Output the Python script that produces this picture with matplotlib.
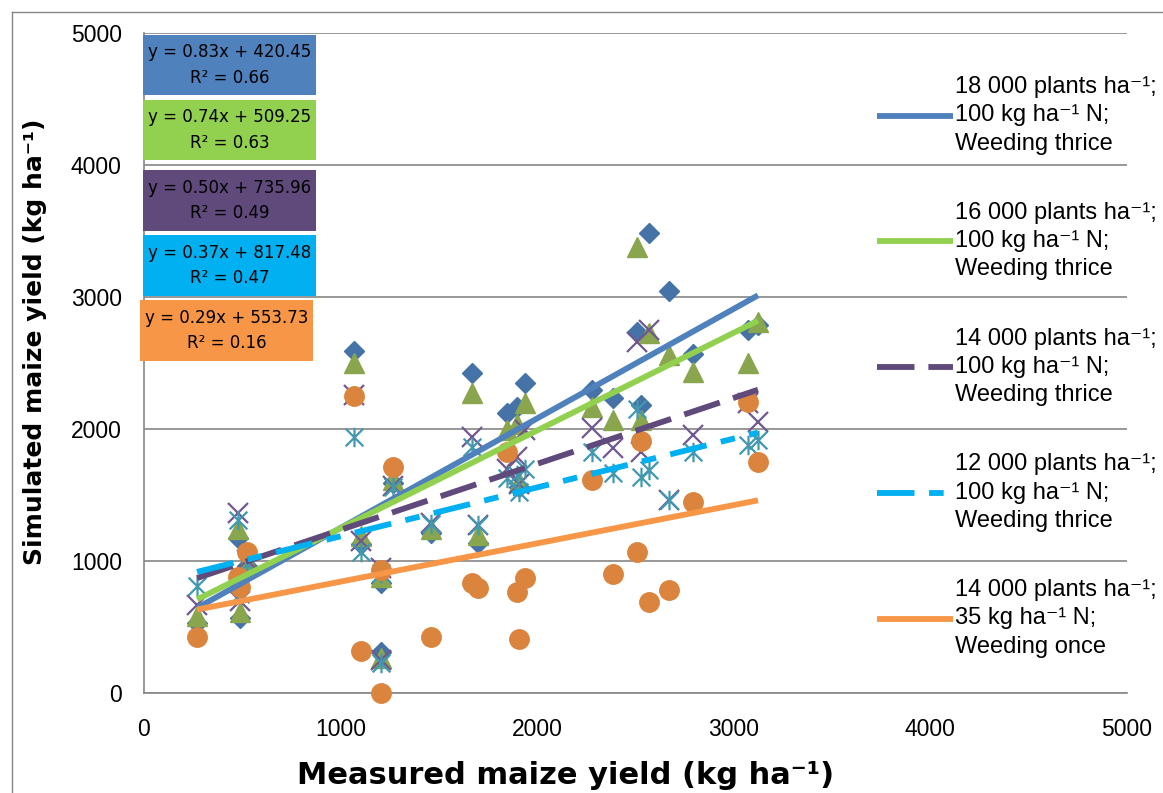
import matplotlib
matplotlib.use("Agg")
import matplotlib.pyplot as plt
from matplotlib.path import Path
from matplotlib.lines import Line2D
from matplotlib.patches import Rectangle

# ---------------- data ----------------
measured = [270, 478, 488, 524, 1068, 1105, 1205, 1205, 1267, 1460, 1668, 1699, 1846,
            1897, 1905, 1938, 2279, 2386, 2508, 2530, 2569, 2670, 2793, 3072, 3123]
sim_18000 = [530, 1175, 568, 960, 2590, 1130, 830, 310, 1590, 1215, 2424, 1136, 2121,
             2167, 1560, 2348, 2295, 2235, 2735, 2182, 3485, 3045, 2568, 2750, 2788]
sim_16000 = [585, 1240, 610, 990, 2500, 1190, 880, 265, 1610, 1240, 2272, 1197, 1990,
             2040, 1600, 2197, 2167, 2068, 3379, 2068, 2727, 2560, 2432, 2500, 2810]
sim_14000 = [670, 1360, 700, 1010, 2260, 1150, 950, 250, 1570, 1290, 1940, 1273, 1700,
             1790, 1580, 1990, 2008, 1856, 2660, 1826, 2750, 1462, 1955, 2200, 2053]
sim_12000 = [810, 1310, 750, 980, 1940, 1070, 910, 230, 1560, 1280, 1864, 1273, 1630,
             1650, 1520, 1700, 1826, 1667, 2150, 1636, 1689, 1462, 1826, 1879, 1917]
sim_14000_lowN = [424, 880, 800, 1068, 2250, 315, 930, 0, 1710, 424, 833, 795, 1826,
                  765, 409, 871, 1614, 900, 1068, 1909, 689, 780, 1447, 2205, 1750]

slopes = [0.83, 0.74, 0.50, 0.37, 0.29]
intercepts = [420.45, 509.25, 735.96, 817.48, 553.73]
r_squared = [0.66, 0.63, 0.49, 0.47, 0.16]

legend_labels = [
    "18 000 plants ha\u207b\u00b9;\n100 kg ha\u207b\u00b9 N;\nWeeding thrice",
    "16 000 plants ha\u207b\u00b9;\n100 kg ha\u207b\u00b9 N;\nWeeding thrice",
    "14 000 plants ha\u207b\u00b9;\n100 kg ha\u207b\u00b9 N;\nWeeding thrice",
    "12 000 plants ha\u207b\u00b9;\n100 kg ha\u207b\u00b9 N;\nWeeding thrice",
    "14 000 plants ha\u207b\u00b9;\n35 kg ha\u207b\u00b9 N;\nWeeding once",
]
ticks = [0, 1000, 2000, 3000, 4000, 5000]
x_title = "Measured maize yield (kg ha\u207b\u00b9)"
y_title = "Simulated maize yield (kg ha\u207b\u00b9)"

# ---------------- style ----------------
plt.rcParams["font.family"] = ["DejaVu Sans"]
plt.rcParams["lines.scale_dashes"] = False

W, H = 1163, 793
fig = plt.figure(figsize=(W / 100, H / 100), dpi=100)
L, R, T, B = 144, 1127, 33, 693
ax = fig.add_axes([L / W, 1 - B / H, (R - L) / W, (B - T) / H])

grey = "#868686"
series = [sim_18000, sim_16000, sim_14000, sim_12000, sim_14000_lowN]
asterisk = Path([(-1, -1), (1, 1), (-1, 1), (1, -1), (0, -1.1), (0, 1.1)],
                [Path.MOVETO, Path.LINETO, Path.MOVETO, Path.LINETO, Path.MOVETO, Path.LINETO])
marker_styles = [
    dict(marker="D", ms=10.5, color="#4572A7", mec="#4572A7", ls="none"),
    dict(marker="^", ms=14, color="#89A54E", mec="#89A54E", ls="none"),
    dict(marker="x", ms=14, color="#71588F", mew=1.6, ls="none"),
    dict(marker=asterisk, ms=14, color="#4198AF", mew=1.6, ls="none"),
    dict(marker="o", ms=14, color="#DB843D", mec="#DB843D", ls="none"),
]
line_styles = [
    dict(color="#4F81BD", lw=4.2, ls="-"),
    dict(color="#92D050", lw=4.2, ls="-"),
    dict(color="#5F4A7B", lw=4.2, ls=(0, (27, 10))),
    dict(color="#00B0F0", lw=4.2, ls=(0, (27, 10.5, 10.5, 10.5))),
    dict(color="#F79646", lw=4.2, ls="-"),
]
box_colors = ["#4F81BD", "#92D050", "#5F4A7B", "#00B0F0", "#F79646"]
box_px = [(143, 35, 316, 95), (143, 100, 316, 160), (143, 170, 316, 231),
          (143, 235, 316, 296), (140, 300, 313, 361)]

for ys, st in zip(series, marker_styles):
    ax.plot(measured, ys, zorder=3, clip_on=False, **st)

xmin, xmax = min(measured), max(measured)
handles = []
for m, b, st in zip(slopes, intercepts, line_styles):
    ln, = ax.plot([xmin, xmax], [m * xmin + b, m * xmax + b], zorder=4,
                  solid_capstyle="butt", dash_capstyle="butt", **st)
    handles.append(ln)

ax.set_xlim(0, 5000)
ax.set_ylim(0, 5000)
ax.set_xticks(ticks)
ax.set_yticks(ticks)
ax.set_xticklabels([str(t) for t in ticks])
ax.set_yticklabels([str(t) for t in ticks])
ax.yaxis.grid(True, color=grey, lw=1.2)
ax.set_axisbelow(True)
for s in ["top", "right"]:
    ax.spines[s].set_visible(False)
for s in ["left", "bottom"]:
    ax.spines[s].set_color(grey)
    ax.spines[s].set_linewidth(1.2)
ax.tick_params(axis="both", length=0, labelsize=16.5, colors="black")
for lab in ax.get_xticklabels() + ax.get_yticklabels():
    lab.set_family("Liberation Sans")
ax.tick_params(axis="y", pad=16)
ax.tick_params(axis="x", pad=18)

ax.set_xlabel(x_title, fontsize=22, fontweight="bold")
ax.xaxis.set_label_coords((566 - L) / (R - L), (B - 775) / (B - T))
ax.xaxis.label.set_va("center")
ax.set_ylabel(y_title, fontsize=18, fontweight="bold")
ax.yaxis.set_label_coords((35 - L) / (R - L), (B - 342) / (B - T))
ax.yaxis.label.set_va("center")

leg = ax.legend(handles, legend_labels, loc="upper left",
                bbox_to_anchor=(877 / W, 1 - 76 / H), bbox_transform=fig.transFigure,
                frameon=False, prop={"family": ["Liberation Sans", "DejaVu Sans"], "size": 17},
                handlelength=3.2, handletextpad=0.12,
                labelspacing=2.0, borderpad=0, borderaxespad=0)
for t in leg.get_texts():
    t.set_linespacing(1.37)

# equation boxes
for (x0, y0, x1, y1), c, m, b, r in zip(box_px, box_colors, slopes, intercepts, r_squared):
    fig.add_artist(Rectangle((x0 / W, 1 - y1 / H), (x1 - x0) / W, (y1 - y0) / H,
                             transform=fig.transFigure, facecolor=c, edgecolor="none", zorder=5))
    fig.text((x0 + x1) / 2 / W, 1 - (y0 + y1) / 2 / H,
             f"y = {m:.2f}x + {b:.2f}\nR\u00b2 = {r:.2f}", ha="center", va="center",
             fontsize=12, linespacing=1.55, color="black", zorder=6)

# outer chart border
fig.add_artist(Line2D([12 / W, 12 / W], [0, 1 - 12 / H], transform=fig.transFigure,
                      color=grey, lw=1))
fig.add_artist(Line2D([12 / W, 1], [1 - 12 / H, 1 - 12 / H], transform=fig.transFigure,
                      color=grey, lw=1))

fig.savefig("out.png", dpi=100)
